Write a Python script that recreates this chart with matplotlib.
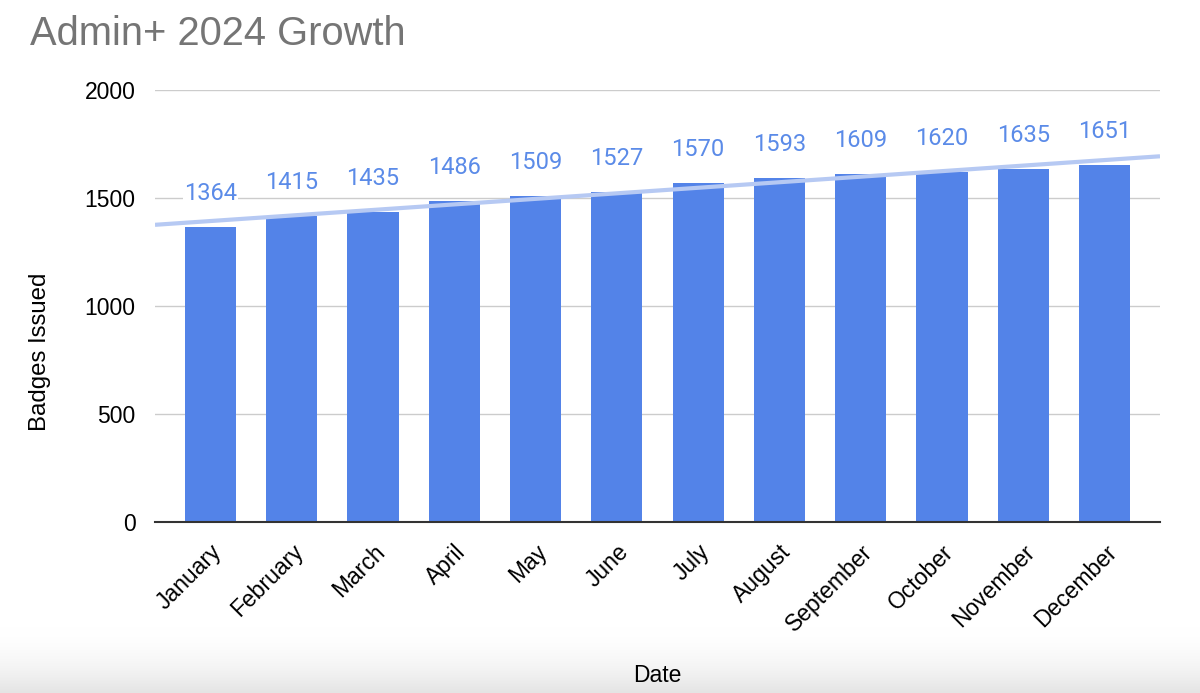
import matplotlib.pyplot as plt
import matplotlib.transforms as mtransforms
from matplotlib.colors import LinearSegmentedColormap
import numpy as np

months = ['January', 'February', 'March', 'April', 'May', 'June', 'July',
          'August', 'September', 'October', 'November', 'December']
badges = [1364, 1415, 1435, 1486, 1509, 1527, 1570, 1593, 1609, 1620, 1635, 1651]
y_ticks = [0, 500, 1000, 1500, 2000]

bar_color = '#5383e8'
label_color = '#5b8be8'
trend_color = '#b6c9f3'

plt.rcParams['font.family'] = ['Liberation Sans', 'DejaVu Sans']

fig = plt.figure(figsize=(12, 6.93), dpi=100)

# faint screen shadow along the bottom edge (white at top, grey at bottom)
bg = fig.add_axes([0, 0, 1, 0.1], zorder=-5)
shade = LinearSegmentedColormap.from_list('shade', ['#ffffff', '#e4e4e4'])
grad = (np.linspace(0, 1, 80) ** 2).reshape(-1, 1)
bg.imshow(grad, aspect='auto', cmap=shade, vmin=0, vmax=1, extent=[0, 1, 0, 1])
bg.axis('off')

ax = fig.add_axes([155/1200, 1 - 522/693, (1160 - 155)/1200, (522 - 90)/693])

x = np.arange(len(months))
ax.bar(x, badges, width=0.63, color=bar_color, zorder=2)

# linear trendline over the whole plot width
xlim = (-0.68, len(months) - 1 + 0.68)
coef = np.polyfit(x, badges, 1)
xt = np.array(xlim)
ax.plot(xt, np.polyval(coef, xt), color=trend_color, linewidth=3, zorder=3,
        solid_capstyle='butt')

for xi, v in zip(x, badges):
    ax.annotate(f'{v}', (xi, v), xytext=(0, 16), textcoords='offset points',
                ha='center', va='bottom', fontsize=17, color=label_color,
                family=['Roboto', 'DejaVu Sans'], zorder=4,
                bbox=dict(boxstyle='square,pad=0.05', facecolor='white',
                          edgecolor='none'))

ax.set_xlim(*xlim)
ax.set_ylim(0, 2000)
ax.set_yticks(y_ticks)
ax.set_yticklabels([str(t) for t in y_ticks], fontsize=16.5)
ax.set_xticks(x)
ax.set_xticklabels(months, rotation=45, ha='right', va='top',
                   rotation_mode='anchor', fontsize=16.5)
shift = mtransforms.ScaledTranslation(11/100, 0, fig.dpi_scale_trans)
for lab in ax.get_xticklabels():
    lab.set_transform(lab.get_transform() + shift)

ax.tick_params(axis='both', length=0)
ax.tick_params(axis='x', pad=13)
ax.tick_params(axis='y', pad=14)
ax.grid(axis='y', color='#cccccc', linewidth=1, zorder=0)
ax.set_axisbelow(True)
for s in ['top', 'right', 'left']:
    ax.spines[s].set_visible(False)
ax.spines['bottom'].set_color('#333333')
ax.spines['bottom'].set_linewidth(1.5)
ax.spines['bottom'].set_zorder(5)

fig.text(30/1200, 1 - 45/693, 'Admin+ 2024 Growth', fontsize=28.7,
         color='#757575', ha='left', va='baseline')
fig.text(657/1200, 1 - 682/693, 'Date', fontsize=16.5, color='black',
         ha='center', va='baseline')
fig.text(40/1200, 1 - 352/693, 'Badges Issued', fontsize=17.3, color='black',
         rotation=90, ha='center', va='center')

fig.savefig('out.png', dpi=100)
